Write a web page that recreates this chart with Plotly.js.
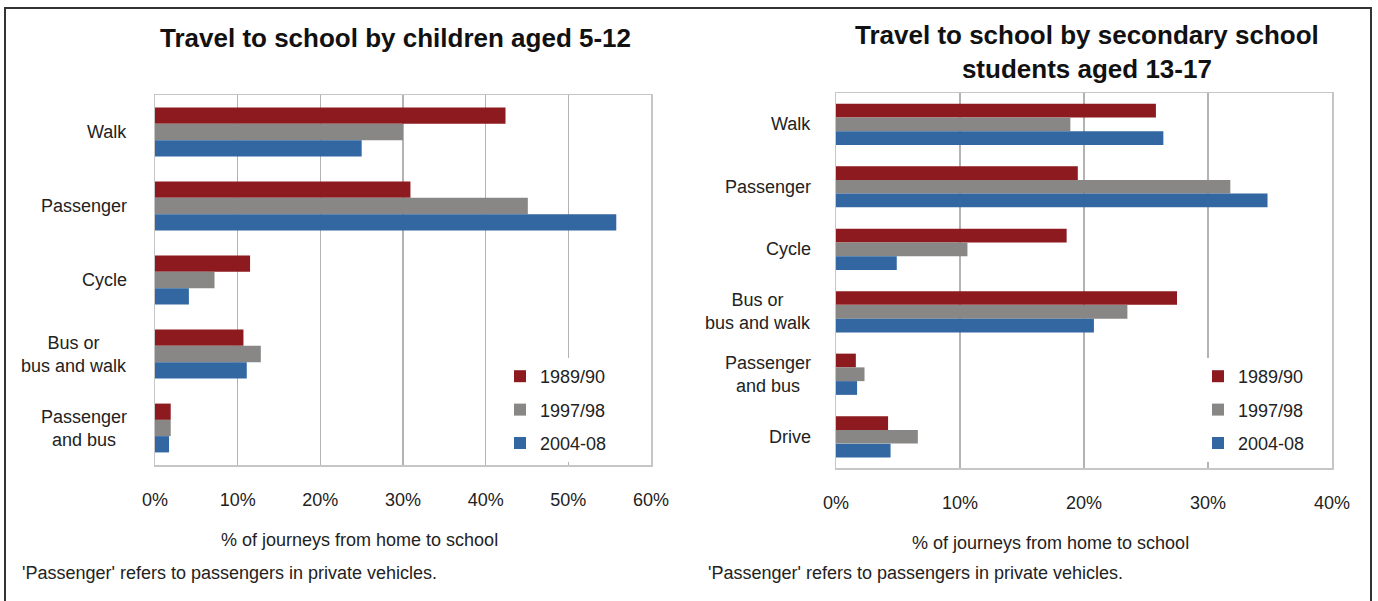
<!DOCTYPE html>
<html>
<head>
<meta charset="utf-8">
<script src="https://cdn.plot.ly/plotly-3.0.1.min.js"></script>
<style>
  html, body { margin: 0; padding: 0; background: #fff; }
  #chart { width: 1378px; height: 601px; }
</style>
</head>
<body>
<div id="chart"></div>
<script>
// ---- Data ----
const seriesNames = ['1989/90', '1997/98', '2004-08'];
const seriesColors = ['#8c1a1f', '#888786', '#3267a2'];

const primaryCategories = ['Walk', 'Passenger', 'Cycle', 'Bus or<br>bus and walk', 'Passenger<br>and bus'];
const primary1989 = [42.4, 30.9, 11.5, 10.7, 1.9];
const primary1997 = [30.0, 45.1, 7.2, 12.8, 1.9];
const primary2004 = [25.0, 55.8, 4.1, 11.1, 1.7];

const secondaryCategories = ['Walk', 'Passenger', 'Cycle', 'Bus or<br>bus and walk', 'Passenger<br>and bus', 'Drive'];
const secondary1989 = [25.8, 19.5, 18.6, 27.5, 1.6, 4.2];
const secondary1997 = [18.9, 31.8, 10.6, 23.5, 2.3, 6.6];
const secondary2004 = [26.4, 34.8, 4.9, 20.8, 1.7, 4.4];

const primaryTitle = 'Travel to school by children aged 5-12';
const secondaryTitle = 'Travel to school by secondary school<br>students aged 13-17';
const axisTitle = '% of journeys from home to school';
const noteText = "'Passenger' refers to passengers in private vehicles.";

// ---- Build ----
const W = 1378, H = 601;
const px = v => v / W;
const py = v => 1 - v / H;
const FONT = 'Liberation Sans, Arial, Helvetica, sans-serif';
const TXT = '#222';

const primaryVals = [primary1989, primary1997, primary2004];
const secondaryVals = [secondary1989, secondary1997, secondary2004];

const traces = [];
primaryVals.forEach((vals, i) => {
  traces.push({
    type: 'bar', orientation: 'h', name: seriesNames[i],
    x: vals, y: primaryCategories, xaxis: 'x', yaxis: 'y',
    marker: { color: seriesColors[i] },
    legend: 'legend', legendgroup: 'p' + i,
    hoverinfo: 'x+name'
  });
});
secondaryVals.forEach((vals, i) => {
  traces.push({
    type: 'bar', orientation: 'h', name: seriesNames[i],
    x: vals, y: secondaryCategories, xaxis: 'x2', yaxis: 'y2',
    marker: { color: seriesColors[i] },
    legend: 'legend2', legendgroup: 's' + i,
    hoverinfo: 'x+name'
  });
});

const xCommon = {
  showgrid: true, gridcolor: '#b3b3b3', gridwidth: 1.3,
  showline: true, linecolor: '#c6c6c6', linewidth: 1.5, mirror: true,
  zeroline: false, ticks: '', ticksuffix: '%', dtick: 10,
  tickfont: { family: FONT, size: 18, color: TXT },
  ticklabelstandoff: 18, fixedrange: true
};
const yCommon = {
  type: 'category', autorange: 'reversed', showgrid: false,
  showline: true, linecolor: '#c6c6c6', linewidth: 1.5, mirror: true,
  showticklabels: false, ticks: '', zeroline: false, fixedrange: true
};

const legendCommon = {
  bgcolor: '#ffffff', borderwidth: 0,
  font: { family: FONT, size: 18, color: TXT },
  tracegroupgap: 7, xanchor: 'left', yanchor: 'top'
};

const annotations = [];
annotations.push({ xref: 'paper', yref: 'paper', x: px(395), y: py(38), text: '<b>' + primaryTitle + '</b>',
  showarrow: false, xanchor: 'center', yanchor: 'middle', font: { family: FONT, size: 26, color: '#111' } });
annotations.push({ xref: 'paper', yref: 'paper', x: px(1087), y: py(52), text: '<b>' + secondaryTitle + '</b>',
  showarrow: false, xanchor: 'center', yanchor: 'middle', font: { family: FONT, size: 26, color: '#111' } });
annotations.push({ xref: 'paper', yref: 'paper', x: px(359), y: py(540), text: axisTitle,
  showarrow: false, xanchor: 'center', yanchor: 'middle', font: { family: FONT, size: 18, color: TXT } });
annotations.push({ xref: 'paper', yref: 'paper', x: px(1050), y: py(543), text: axisTitle,
  showarrow: false, xanchor: 'center', yanchor: 'middle', font: { family: FONT, size: 18, color: TXT } });
annotations.push({ xref: 'paper', yref: 'paper', x: px(20), y: py(573), text: noteText,
  showarrow: false, xanchor: 'left', yanchor: 'middle', font: { family: FONT, size: 18, color: TXT } });
annotations.push({ xref: 'paper', yref: 'paper', x: px(706), y: py(573), text: noteText,
  showarrow: false, xanchor: 'left', yanchor: 'middle', font: { family: FONT, size: 18, color: TXT } });
primaryCategories.forEach(c => annotations.push({ xref: 'paper', yref: 'y', x: px(129), y: c, text: c,
  showarrow: false, xanchor: 'right', yanchor: 'middle', align: 'center', font: { family: FONT, size: 18, color: TXT } }));
secondaryCategories.forEach(c => annotations.push({ xref: 'paper', yref: 'y2', x: px(813), y: c, text: c,
  showarrow: false, xanchor: 'right', yanchor: 'middle', align: 'center', font: { family: FONT, size: 18, color: TXT } }));

const layout = {
  width: W, height: H,
  margin: { l: 0, r: 0, t: 0, b: 0 },
  paper_bgcolor: '#ffffff', plot_bgcolor: '#ffffff',
  barmode: 'group', bargap: 0.34, bargroupgap: 0,
  showlegend: true,
  xaxis: Object.assign({}, xCommon, { domain: [px(155), px(651)], range: [0, 60], anchor: 'y' }),
  yaxis: Object.assign({}, yCommon, { domain: [py(465), py(95)], anchor: 'x' }),
  xaxis2: Object.assign({}, xCommon, { domain: [px(836), px(1332)], range: [0, 40], anchor: 'y2' }),
  yaxis2: Object.assign({}, yCommon, { domain: [py(468), py(93)], anchor: 'x2' }),
  legend: Object.assign({}, legendCommon, { x: px(500), y: py(358) }),
  legend2: Object.assign({}, legendCommon, { x: px(1198), y: py(358) }),
  annotations: annotations,
  shapes: [{
    type: 'rect', xref: 'paper', yref: 'paper',
    x0: px(5), x1: px(1371), y0: -0.1, y1: py(8),
    line: { color: '#333333', width: 2 }, fillcolor: 'rgba(0,0,0,0)', layer: 'above'
  }]
};

Plotly.newPlot('chart', traces, layout, { displayModeBar: false, staticPlot: true });
</script>
</body>
</html>
